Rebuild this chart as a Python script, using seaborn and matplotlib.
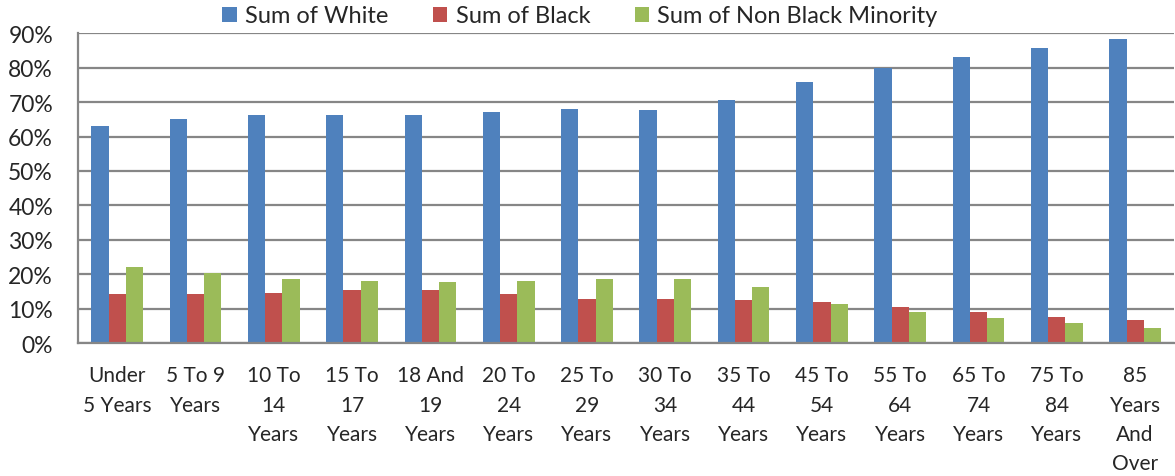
import pandas as pd
import matplotlib
matplotlib.use("Agg")
import matplotlib.pyplot as plt
import seaborn as sns
from matplotlib.ticker import PercentFormatter

# ---------------------------------------------------
# Données
# ---------------------------------------------------
age_groups = [
    "Under\n5 Years", "5 To 9\nYears", "10 To\n14\nYears", "15 To\n17\nYears",
    "18 And\n19\nYears", "20 To\n24\nYears", "25 To\n29\nYears", "30 To\n34\nYears",
    "35 To\n44\nYears", "45 To\n54\nYears", "55 To\n64\nYears", "65 To\n74\nYears",
    "75 To\n84\nYears", "85\nYears\nAnd\nOver",
]
white = [63.2, 65.2, 66.3, 66.2, 66.2, 67.2, 67.9, 67.8, 70.6, 75.9, 80.0, 83.0, 85.7, 88.3]
black = [14.3, 14.1, 14.5, 15.4, 15.5, 14.3, 12.9, 12.9, 12.6, 12.0, 10.5, 9.1, 7.7, 6.8]
non_black_minority = [22.1, 20.3, 18.6, 17.9, 17.7, 18.1, 18.6, 18.6, 16.3, 11.4, 8.9, 7.3, 5.9, 4.4]

series_names = ["Sum of White", "Sum of Black", "Sum of Non Black Minority"]
colors = ["#4F81BD", "#C0504D", "#9BBB59"]

df = pd.DataFrame({"age": age_groups, series_names[0]: white,
                   series_names[1]: black, series_names[2]: non_black_minority})
df_long = df.melt(id_vars="age", var_name="series", value_name="pct")
df_long["pct"] = df_long["pct"] / 100

# ---------------------------------------------------
# Graphique
# ---------------------------------------------------
sns.set_style("white")
plt.rcParams["font.family"] = ["Lato", "DejaVu Sans"]

fig = plt.figure(figsize=(11.75, 4.77), dpi=100)
ax = fig.add_axes([0.0664, 0.2788, 0.933, 0.6493])

sns.barplot(data=df_long, x="age", y="pct", hue="series", hue_order=series_names,
            palette=colors, width=0.66, gap=0, saturation=1, ax=ax,
            edgecolor="none", linewidth=0)

ax.set_ylim(0, 0.9)
ax.set_xlim(-0.5, len(age_groups) - 0.5)
ax.set_yticks([i / 10 for i in range(10)])
ax.yaxis.set_major_formatter(PercentFormatter(1.0, decimals=0))
ax.grid(axis="y", color="#868686", linewidth=1.6)
ax.set_axisbelow(True)
ax.set_xlabel("")
ax.set_ylabel("")

for s in ["top", "right"]:
    ax.spines[s].set_visible(False)
for s in ["left", "bottom"]:
    ax.spines[s].set_color("#868686")
    ax.spines[s].set_linewidth(1.6)

ax.set_xticks([i - 0.5 for i in range(len(age_groups) + 1)], minor=True)
ax.tick_params(axis="x", which="major", length=0, pad=16, labelsize=15)
ax.tick_params(axis="x", which="minor", length=7, width=1.6, color="#868686", direction="out")
ax.tick_params(axis="y", length=7, width=1.6, color="#868686", direction="out",
               labelsize=16.5, pad=11)
ax.set_xticklabels(age_groups, linespacing=1.58, va="top")

ax.legend(loc="center", bbox_to_anchor=(0.458, 1.056), ncol=3, frameon=False,
          fontsize=17, handlelength=0.6, handleheight=0.6, handletextpad=0.35,
          columnspacing=1.9, borderaxespad=0, borderpad=0)

plt.savefig("out.png", dpi=100)
